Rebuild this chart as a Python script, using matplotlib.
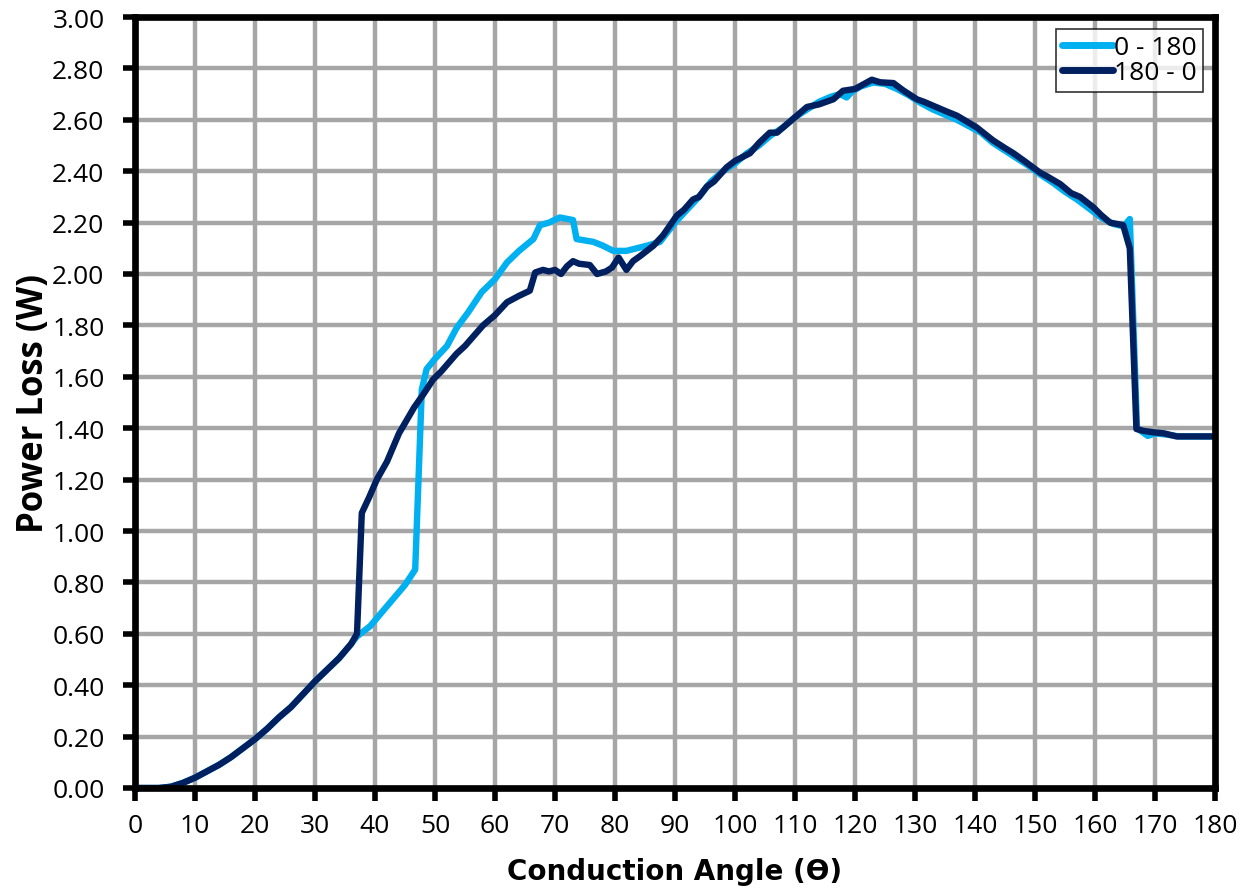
import numpy as np
import matplotlib
matplotlib.use("Agg")
import matplotlib.pyplot as plt

# "180 - 0" sweep (dark line)
angle_down = [0, 2, 4, 6, 8, 10, 12, 14, 16, 18, 20, 22, 24, 26, 28, 30, 32, 34, 36, 37,
              37.8, 39, 40.3, 42, 44, 45, 46.5, 48, 49.7, 51, 53.6, 55, 56.5, 58, 60, 62, 64,
              65.8, 66.7, 68, 69, 70, 71, 72, 73, 74, 75.8, 77, 78.5, 79.5, 80.6, 81.9, 83,
              84.2, 86.4, 88, 90.3, 91.5, 93, 94, 95.3, 96.5, 98.6, 100, 102.5, 104, 105.8,
              107, 109, 112, 114, 116.4, 118, 120, 122.8, 124.2, 126.4, 128, 130.3, 131.5,
              133, 135, 137, 140.3, 143, 145, 146.4, 148.5, 150.8, 152, 154.2, 156, 157.5,
              159.7, 161, 162.5, 164.7, 165.8, 166.9, 168, 169.7, 171.5, 173.6, 176, 180]
loss_down = [0, 0, 0, 0.005, 0.02, 0.04, 0.065, 0.09, 0.12, 0.155, 0.19, 0.23, 0.275, 0.315,
             0.365, 0.415, 0.46, 0.505, 0.56, 0.60,
             1.07, 1.13, 1.20, 1.27, 1.38, 1.42, 1.48, 1.53, 1.59, 1.62, 1.69, 1.72, 1.76, 1.80,
             1.84, 1.89, 1.915,
             1.935, 2.006, 2.016, 2.01, 2.016, 2.0, 2.03, 2.05, 2.04, 2.035, 2.0, 2.01, 2.025,
             2.064, 2.016, 2.05,
             2.07, 2.11, 2.15, 2.227, 2.25, 2.29, 2.30, 2.34, 2.36, 2.415, 2.44, 2.47, 2.51, 2.55,
             2.55, 2.59, 2.65, 2.66, 2.68, 2.713, 2.72, 2.756, 2.746, 2.743, 2.715, 2.68, 2.67,
             2.655, 2.635, 2.616, 2.57, 2.52, 2.49, 2.47, 2.435, 2.395, 2.38, 2.35, 2.315, 2.30,
             2.26, 2.23, 2.20, 2.19, 2.10, 1.397, 1.39, 1.384, 1.38, 1.368, 1.368, 1.368]

# "0 - 180" sweep (light line)
angle_up = [0, 2, 4, 6, 8, 10, 12, 14, 16, 18, 20, 22, 24, 26, 28, 30, 32, 34, 36, 37,
            39.2, 41, 43, 45, 46.7, 47.8, 48.6, 50, 52, 53.6, 55.5, 57.8, 60, 62, 64, 66.4,
            67.5, 69, 70.8, 73, 73.6, 76.4, 78, 79.7, 81.9, 85.3, 87.5, 90, 92, 94, 96, 98,
            100, 102, 104, 106, 108, 110, 112, 114, 116, 117.5, 118.6, 119.5, 121, 123, 125,
            127, 129, 131, 133, 135, 137, 139, 141, 143, 145, 147, 149, 151, 153, 155, 157,
            159, 161, 163, 164.8, 165.8, 167, 168.8, 170, 172, 174, 176, 178, 180]
loss_up = [0, 0, 0, 0.005, 0.02, 0.04, 0.065, 0.09, 0.12, 0.155, 0.19, 0.23, 0.275, 0.315,
           0.365, 0.415, 0.46, 0.505, 0.56, 0.59,
           0.63, 0.68, 0.735, 0.79, 0.85, 1.55, 1.63, 1.67, 1.72, 1.79, 1.85, 1.93, 1.98, 2.045,
           2.09, 2.136,
           2.19, 2.20, 2.22, 2.21, 2.136, 2.125, 2.11, 2.09, 2.09, 2.11, 2.125, 2.20, 2.25,
           2.30, 2.36, 2.40, 2.43, 2.47, 2.50, 2.54, 2.57, 2.61, 2.64, 2.67, 2.69, 2.70, 2.687,
           2.71, 2.73, 2.745, 2.74, 2.72, 2.695, 2.665, 2.64, 2.62, 2.60, 2.575, 2.55, 2.51,
           2.48, 2.45, 2.42, 2.385, 2.355, 2.32, 2.29, 2.255, 2.22, 2.195, 2.185, 2.214, 1.40,
           1.37, 1.38, 1.375, 1.368, 1.368, 1.368, 1.368]

light_blue = "#00b0f0"
dark_blue = "#002060"

fig = plt.figure(figsize=(12.52, 8.95), dpi=100)
ax = fig.add_axes([135 / 1252, 1 - 789 / 895, 1080 / 1252, 771 / 895])

ax.plot(angle_up, loss_up, color=light_blue, lw=4.6, label="0 - 180", solid_joinstyle="round")
ax.plot(angle_down, loss_down, color=dark_blue, lw=4.6, label="180 - 0", solid_joinstyle="round")

ax.set_xlim(0, 180)
ax.set_ylim(0, 3)
ax.set_xticks(np.arange(0, 181, 10))
ax.set_yticks(np.arange(0, 3.01, 0.2))
ax.set_yticklabels([f"{v:.2f}" for v in np.arange(0, 3.01, 0.2)])
ax.grid(True, color="#a6a6a6", lw=3.2)
ax.set_axisbelow(True)

for s in ax.spines.values():
    s.set_linewidth(4.8)
    s.set_color("black")
ax.tick_params(direction="out", length=9, width=4, color="black")
ax.tick_params(axis="x", pad=9)
ax.tick_params(axis="y", pad=13)
for lbl in ax.get_xticklabels() + ax.get_yticklabels():
    lbl.set_fontfamily("Open Sans")
    lbl.set_fontsize(19)

ax.set_xlabel("Conduction Angle (ϴ)", fontsize=20, fontweight="bold",
              family="DejaVu Sans", labelpad=14)
ax.set_ylabel("Power Loss (W)", fontsize=25, fontweight="bold",
              family="Open Sans", labelpad=0)

leg = ax.legend(loc="upper right", frameon=True, fancybox=False,
                prop={"family": "Open Sans", "size": 19}, handlelength=1.9, handletextpad=0.05,
                borderpad=0.25, labelspacing=0.0, borderaxespad=0.45)
leg.get_frame().set_edgecolor("black")
leg.get_frame().set_linewidth(1.2)
for h in leg.get_lines():
    h.set_solid_capstyle("round")
    h.set_linewidth(5)

fig.savefig("out.png", dpi=100)
